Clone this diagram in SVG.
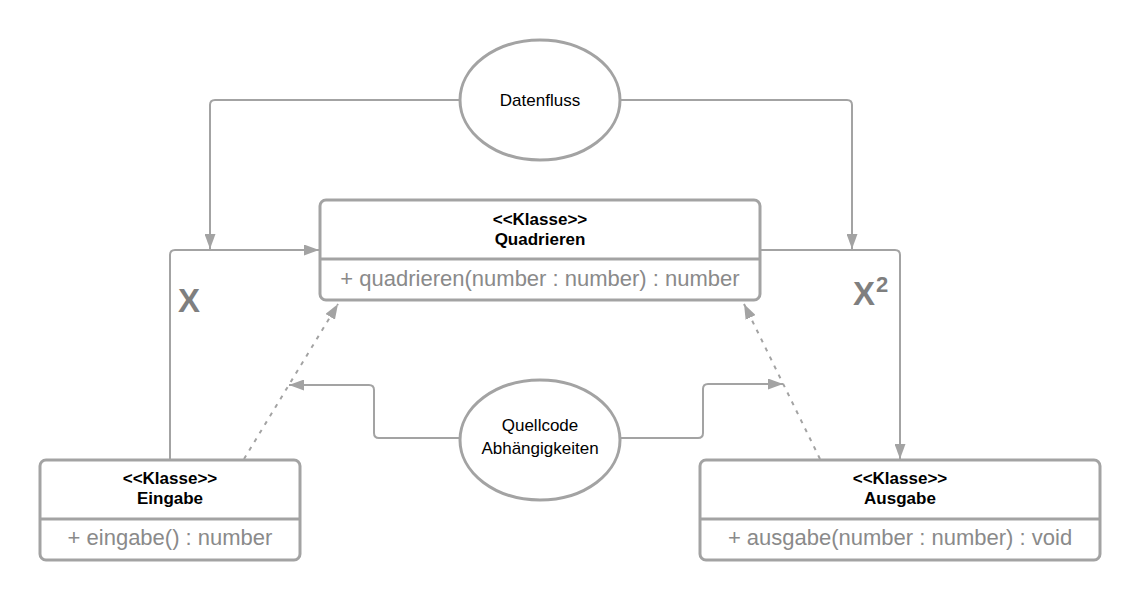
<svg xmlns="http://www.w3.org/2000/svg" width="1140" height="602" viewBox="0 0 1140 602">
<style>
.box{fill:#fff;stroke:#a3a3a3;stroke-width:3}
.div{stroke:#a3a3a3;stroke-width:3}
.ell{fill:#fff;stroke:#a3a3a3;stroke-width:3}
.con{fill:none;stroke:#a3a3a3;stroke-width:2}
.dash{fill:none;stroke:#a3a3a3;stroke-width:2;stroke-dasharray:4 6}
.hdr{font-family:"Liberation Sans",Arial,sans-serif;font-size:17px;font-weight:bold;fill:#000;text-anchor:middle}
.meth{font-family:"Liberation Sans",Arial,sans-serif;font-size:22px;fill:#8a8a8a;text-anchor:middle}
.lbl{font-family:"Liberation Sans",Arial,sans-serif;font-size:17px;fill:#000;text-anchor:middle}
.big{font-family:"Liberation Sans",Arial,sans-serif;font-weight:bold;fill:#7f7f7f}
</style>
<defs>
<marker id="arr" viewBox="0 0 15 11" refX="15" refY="5.5" markerWidth="15" markerHeight="11" markerUnits="userSpaceOnUse" orient="auto">
<path d="M0,0 L15,5.5 L0,11 z" fill="#a3a3a3"/>
</marker>
</defs>
<rect width="1140" height="602" fill="#fff"/>
<g id="connectors">
<path class="con" d="M460,100 H215 Q210,100 210,105 V249" marker-end="url(#arr)"/>
<path class="con" d="M620,100 H847 Q852,100 852,105 V249" marker-end="url(#arr)"/>
<path class="con" d="M170,460 V255 Q170,250 175,250 H319" marker-end="url(#arr)"/>
<path class="con" d="M760,250 H895 Q900,250 900,255 V459" marker-end="url(#arr)"/>
<path class="dash" d="M244,459 L338,304" marker-end="url(#arr)"/>
<path class="dash" d="M820,459 L744,304" marker-end="url(#arr)"/>
<path class="con" d="M460,438 H379 Q374,438 374,433 V390 Q374,385 369,385 H289" marker-end="url(#arr)"/>
<path class="con" d="M620,438 H698 Q703,438 703,433 V389 Q703,384 708,384 H783" marker-end="url(#arr)"/>
<text class="big" x="178" y="312" font-size="33">X</text>
<text class="big" x="853" y="305" font-size="33">X</text>
<text class="big" x="876" y="292" font-size="22">2</text>
</g>
<g id="datenfluss">
<ellipse class="ell" cx="540" cy="100" rx="80" ry="60"/>
<text class="lbl" x="540" y="106">Datenfluss</text>
</g>
<g id="quellcode">
<ellipse class="ell" cx="540" cy="440" rx="80" ry="60"/>
<text class="lbl" x="540" y="431">Quellcode</text>
<text class="lbl" x="540" y="454">Abhängigkeiten</text>
</g>
<g id="quadrieren">
<rect class="box" x="320" y="200" width="440" height="100" rx="6"/>
<line class="div" x1="320" y1="259" x2="760" y2="259"/>
<text class="hdr" x="540" y="225">&lt;&lt;Klasse&gt;&gt;</text>
<text class="hdr" x="540" y="245">Quadrieren</text>
<text class="meth" x="540" y="286">+ quadrieren(number : number) : number</text>
</g>
<g id="eingabe">
<rect class="box" x="40" y="460" width="260" height="100" rx="6"/>
<line class="div" x1="40" y1="519" x2="300" y2="519"/>
<text class="hdr" x="170" y="484">&lt;&lt;Klasse&gt;&gt;</text>
<text class="hdr" x="170" y="504">Eingabe</text>
<text class="meth" x="170" y="545">+ eingabe() : number</text>
</g>
<g id="ausgabe">
<rect class="box" x="700" y="460" width="400" height="100" rx="6"/>
<line class="div" x1="700" y1="519" x2="1100" y2="519"/>
<text class="hdr" x="900" y="484">&lt;&lt;Klasse&gt;&gt;</text>
<text class="hdr" x="900" y="504">Ausgabe</text>
<text class="meth" x="900" y="545">+ ausgabe(number : number) : void</text>
</g>
</svg>
